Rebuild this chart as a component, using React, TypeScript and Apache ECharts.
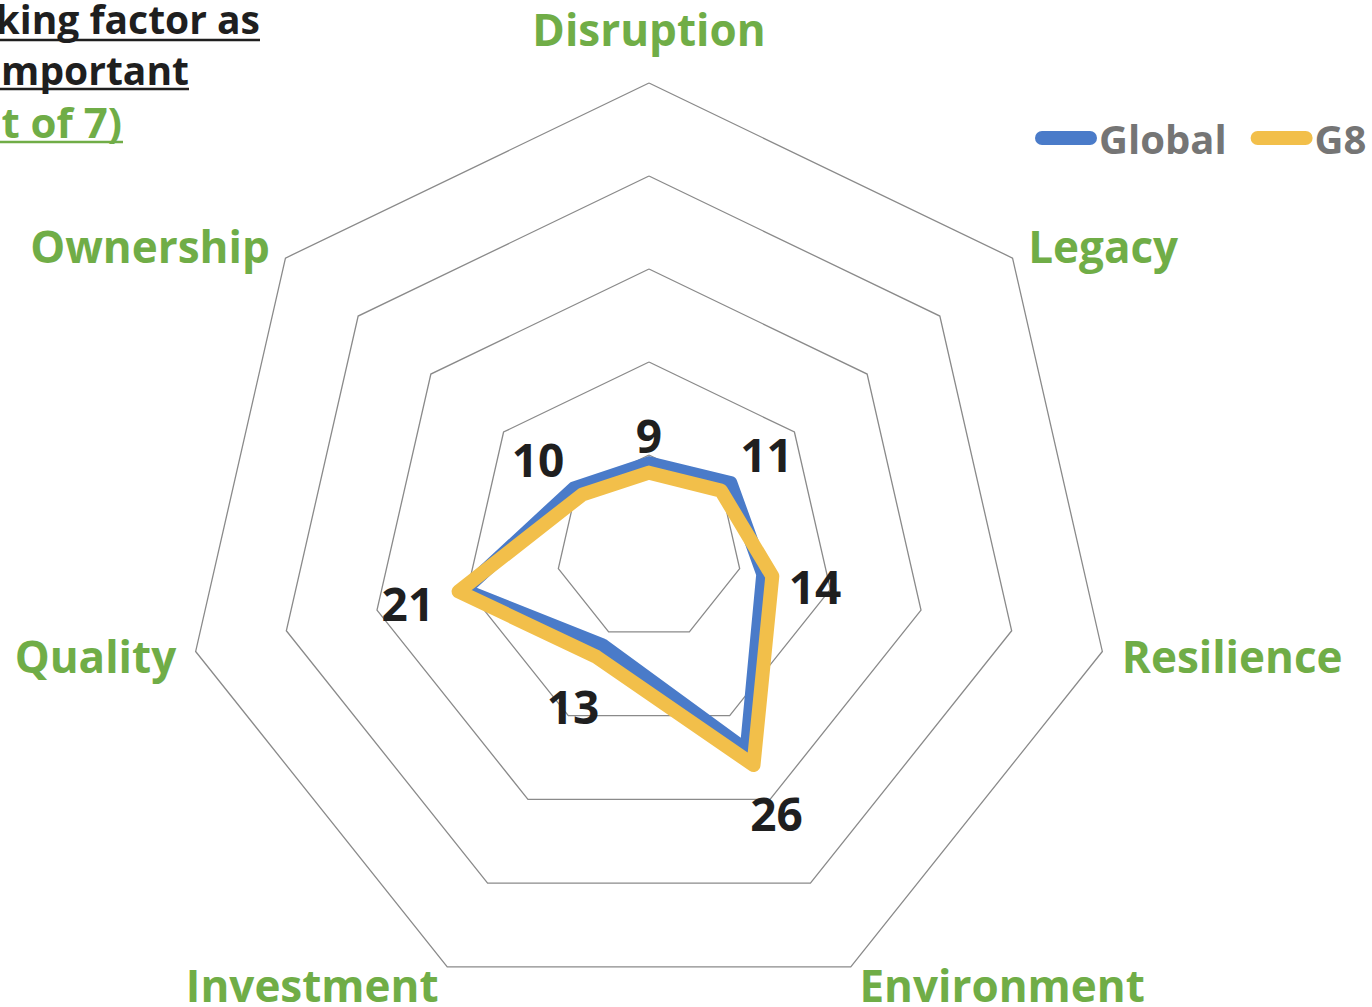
import React, { useEffect, useRef } from 'react';
import * as echarts from 'echarts';

// ---- data ----
const categories = ['Disruption', 'Legacy', 'Resilience', 'Environment', 'Investment', 'Quality', 'Ownership'];
const globalValues = [9.1, 11.2, 12.6, 24.2, 11.6, 20.4, 10.3];
const g8Values = [8.1, 9.9, 13.6, 25.9, 13.0, 21.0, 9.2];
const labelValues = [9, 11, 14, 26, 13, 21, 10];
const seriesNames = ['Global', 'G8'];
const titleLines = ['king factor as', 'mportant', 't of 7)'];
const axisMin = 0;
const axisMax = 50;
const splitCount = 5;

// ---- styles ----
const FONT = "'Open Sans', 'Noto Sans', sans-serif";
const GREEN = '#70AD47';
const BLUE = '#4A7BC9';
const GOLD = '#F2BF4A';
const DARK = '#1f1f1f';
const CX = 649;
const CY = 548;
const R = 465;
const labelDist = [29, 48, 40, 52, 54, 52, 49];

export default function App() {
  const ref = useRef<HTMLDivElement>(null);
  useEffect(() => {
    if (!ref.current) return;
    const chart = echarts.init(ref.current, undefined, { renderer: 'svg' });
    const n = categories.length;
    // ECharts radar lays indicators counter-clockwise; reorder so they read clockwise.
    const order = [0, ...Array.from({ length: n - 1 }, (_, k) => n - 1 - k)];
    const reorder = (arr: number[]) => order.map((i) => arr[i]);

    const labelData = labelValues.map((v, i) => {
      const th = (i * 2 * Math.PI) / n;
      const d = labelDist[i];
      return {
        value: [v, i],
        label: { offset: [Math.sin(th) * d, -Math.cos(th) * d] },
      };
    });

    const capsule = 'path://M7,0 H55 A7,7 0 0 1 55,14 H7 A7,7 0 0 1 7,0 Z';

    chart.setOption({
      animation: false,
      backgroundColor: '#ffffff',
      legend: {
        data: seriesNames.map((name) => ({ name, icon: capsule })),
        left: 1035,
        top: 118,
        padding: 0,
        itemWidth: 62,
        itemHeight: 14,
        itemGap: 24,
        textStyle: { fontFamily: FONT, fontWeight: 'bold', fontSize: 40, color: '#757575', padding: [0, 0, 0, -3] },
      },
      radar: {
        center: [CX, CY],
        radius: R,
        startAngle: 90,
        shape: 'polygon',
        splitNumber: splitCount,
        indicator: order.map((i) => ({ name: categories[i], min: axisMin, max: axisMax })),
        nameGap: 20,
        axisName: {
          color: GREEN,
          fontFamily: FONT,
          fontWeight: 'bold',
          fontSize: 44,
          formatter: (name: string) => (name === categories[0] ? `{t|${name}}` : name),
          rich: {
            t: { color: GREEN, fontFamily: FONT, fontWeight: 'bold', fontSize: 44, padding: [0, 0, 12, 0] },
          },
        },
        axisLine: { show: false },
        axisTick: { show: false },
        axisLabel: { show: false },
        splitArea: { show: false },
        splitLine: { lineStyle: { color: '#8a8a8a', width: 1.3 } },
      },
      polar: { center: [CX, CY], radius: R },
      angleAxis: { type: 'value', min: 0, max: n, startAngle: 90, clockwise: true, show: false },
      radiusAxis: { type: 'value', min: axisMin, max: axisMax, show: false },
      series: [
        {
          type: 'radar',
          name: seriesNames[0],
          symbol: 'none',
          lineStyle: { color: BLUE, width: 14, cap: 'round', join: 'round' },
          itemStyle: { color: BLUE },
          data: [{ name: seriesNames[0], value: reorder(globalValues) }],
          z: 2,
        },
        {
          type: 'radar',
          name: seriesNames[1],
          symbol: 'none',
          lineStyle: { color: GOLD, width: 14, cap: 'round', join: 'round' },
          itemStyle: { color: GOLD },
          data: [{ name: seriesNames[1], value: reorder(g8Values) }],
          z: 3,
        },
        {
          type: 'scatter',
          coordinateSystem: 'polar',
          symbol: 'circle',
          symbolSize: 1,
          itemStyle: { color: '#ffffff', opacity: 0 },
          silent: true,
          z: 5,
          label: {
            show: true,
            position: 'inside',
            formatter: (p: any) => String(p.value[0]),
            fontFamily: FONT,
            fontWeight: 'bold',
            fontSize: 46,
            color: DARK,
            opacity: 1,
          },
          data: labelData,
        },
      ],
      graphic: [
        {
          type: 'text', x: 260, y: 18,
          style: { text: titleLines[0], align: 'right', verticalAlign: 'middle', font: `bold 39px ${FONT}`, fill: DARK },
        },
        { type: 'line', shape: { x1: 0, y1: 40, x2: 260, y2: 40 }, style: { stroke: DARK, lineWidth: 2.5 } },
        {
          type: 'text', x: 189, y: 69,
          style: { text: titleLines[1], align: 'right', verticalAlign: 'middle', font: `bold 39px ${FONT}`, fill: DARK },
        },
        { type: 'line', shape: { x1: 0, y1: 89, x2: 189, y2: 89 }, style: { stroke: DARK, lineWidth: 2.5 } },
        {
          type: 'text', x: 122, y: 121,
          style: { text: titleLines[2], align: 'right', verticalAlign: 'middle', font: `bold 42px ${FONT}`, fill: GREEN },
        },
        { type: 'line', shape: { x1: 0, y1: 142, x2: 123, y2: 142 }, style: { stroke: GREEN, lineWidth: 2.5 } },
      ],
    });
    return () => chart.dispose();
  }, []);
  return (
    <div
      ref={ref}
      style={{ position: 'fixed', left: 0, top: 0, width: 1372, height: 1007, background: '#fff' }}
    />
  );
}
